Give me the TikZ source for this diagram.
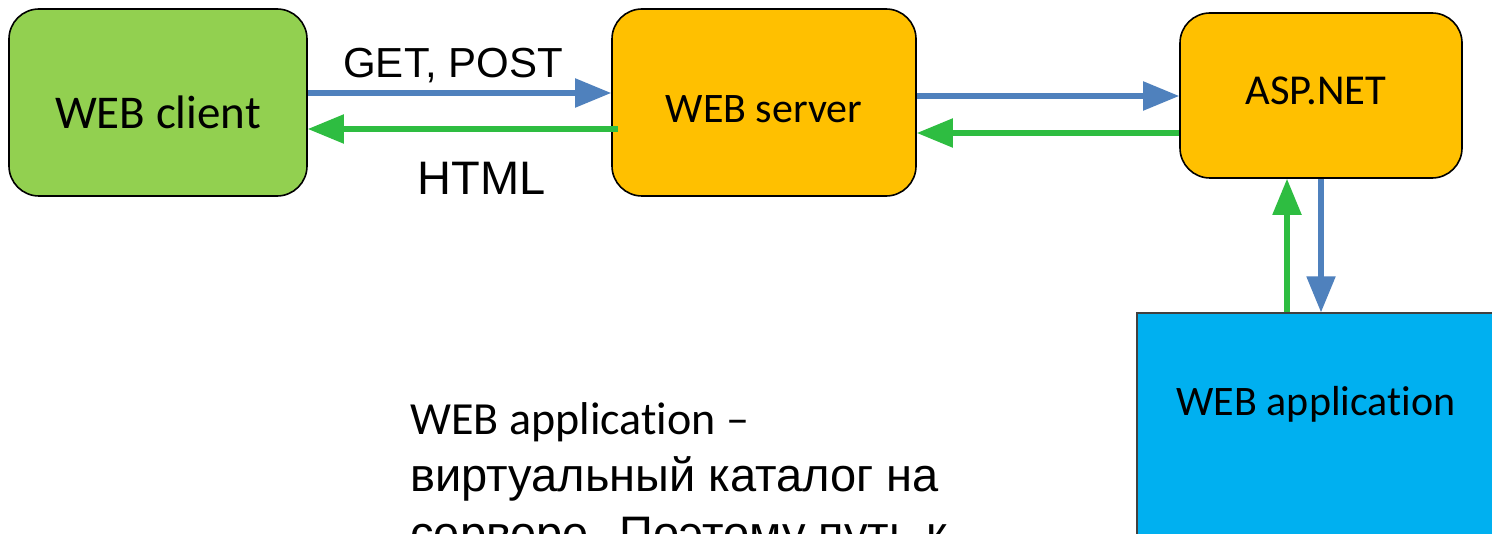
\documentclass[tikz,border=0pt]{standalone}
\usepackage{fontspec}
\setmainfont{Carlito}[RawFeature={-liga;-calt;-dlig;-clig}]
\newfontfamily\arialf{Liberation Sans}
\usetikzlibrary{arrows.meta,calc}
\definecolor{clientgreen}{HTML}{92D050}
\definecolor{boxorange}{HTML}{FFC000}
\definecolor{appcyan}{HTML}{00B0F0}
\definecolor{reqblue}{HTML}{4F81BD}
\definecolor{respgreen}{HTML}{2EBD41}
\tikzset{
  roundbox/.style={draw=black, line width=0.8pt, rounded corners=15pt, inner sep=0pt},
  reqarrow/.style={draw=reqblue, line width=2.6pt, -{Triangle[length=18pt,width=14pt]}},
  resparrow/.style={draw=respgreen, line width=2.6pt, -{Triangle[length=18pt,width=14pt]}},
  lbl/.style={inner sep=0pt, anchor=base, text=black}
}
\begin{document}
\begin{tikzpicture}[x=0.5pt,y=-0.5pt]
\useasboundingbox (0,0) rectangle (1492,534);
\clip (0,0) rectangle (1492,534);
\fill[white] (0,0) rectangle (1492,534);

% boxes
\node[roundbox, fill=clientgreen, minimum width=149pt, minimum height=93.5pt] (client) at (158,102.5) {};
\node[roundbox, fill=boxorange, minimum width=152pt, minimum height=93.5pt] (server) at (764,102.5) {};
\node[roundbox, fill=boxorange, minimum width=141pt, minimum height=82.5pt] (asp) at (1321,95.5) {};
\node[draw=black!75, line width=0.6pt, fill=appcyan, inner sep=0pt, minimum width=231.5pt, minimum height=193.5pt] (app) at (1368.5,506.5) {};

% box labels
\node[lbl, font=\fontsize{23.5pt}{28pt}\selectfont] (clientlbl) at (158,129) {WEB client};
\node[lbl, font=\fontsize{21pt}{25pt}\selectfont] (serverlbl) at (764,123) {WEB server};
\node[lbl, font=\fontsize{21.3pt}{25pt}\selectfont] (asplbl) at (1316,105) {ASP.NET};
\node[lbl, font=\fontsize{21pt}{25pt}\selectfont] (applbl) at (1316,415) {WEB applicat\kern0pt ion};

% connectors
\draw[reqarrow] (client.east |- 0,93) -- (server.west |- 0,93);
\draw[resparrow] ($(server.west |- 0,129)+(7,0)$) -- (client.east |- 0,129);
\draw[reqarrow] (server.east |- 0,96) -- (asp.west |- 0,96);
\draw[resparrow] (asp.west |- 0,133) -- (server.east |- 0,133);
\draw[reqarrow] (asp.south -| 1321,0) -- (app.north -| 1321,0);
\draw[resparrow] (app.north -| 1287,0) -- (asp.south -| 1287,0);

% connector labels
\node[lbl, font=\arialf\fontsize{21pt}{25pt}\selectfont] (getpost) at (453,78) {GET, POST};
\node[lbl, font=\arialf\fontsize{23.5pt}{28pt}\selectfont] (html) at (481.5,195) {HTML};

% note text
\node[lbl, anchor=base west, font=\fontsize{23pt}{27pt}\selectfont] (note1) at (410,434) {WEB applicat\kern0pt ion –};
\node[lbl, anchor=base west, font=\arialf\fontsize{23.5pt}{28pt}\selectfont] (note2) at (410,491) {виртуальный каталог на};
\node[lbl, anchor=base west, font=\arialf\fontsize{23.5pt}{28pt}\selectfont] (note3) at (410,549) {сервере. Поэтому путь к};
\end{tikzpicture}
\end{document}
